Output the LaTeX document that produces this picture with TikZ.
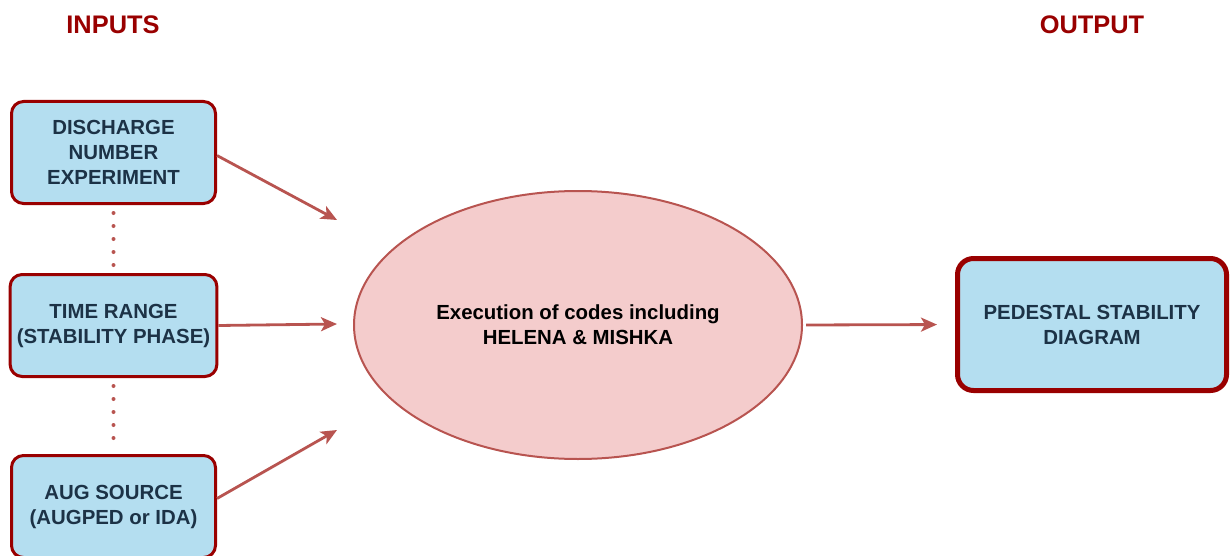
\documentclass[tikz,border=0pt]{standalone}
\usepackage{fontspec}
\setmainfont{Liberation Sans}
\usetikzlibrary{shapes, arrows.meta, positioning, calc}

\definecolor{boxblue}{RGB}{180,222,240}
\definecolor{boxred}{RGB}{153,0,0}
\definecolor{ellfill}{RGB}{244,204,204}
\definecolor{ellred}{RGB}{184,84,80}
\definecolor{navy}{RGB}{28,50,70}

\begin{document}
\begin{tikzpicture}[
			x=0.5pt, y=0.5pt,
			>={Stealth[length=8pt, width=7pt, inset=2pt]},
			inbox/.style={draw=boxred, fill=boxblue, line width=1.5pt, rounded corners=6pt, minimum width=102pt, minimum height=51pt, align=center, text=navy, font=\fontsize{10.2}{12.5}\selectfont\bfseries},
			outbox/.style={inbox, line width=2.5pt, minimum width=134.5pt, minimum height=66pt, rounded corners=8pt},
			process/.style={draw=ellred, fill=ellfill, ellipse, line width=1pt, minimum width=224pt, minimum height=134pt, inner sep=0pt, align=center, font=\fontsize{10.2}{12.5}\selectfont\bfseries},
			title/.style={text=boxred, font=\fontsize{12.7}{15}\selectfont\bfseries},
			flow/.style={->, draw=ellred, line width=1.4pt},
			dots/.style={draw=ellred, line width=2pt, line cap=round, dash pattern=on 0pt off 6.5pt}
			]
			\useasboundingbox (0,0) rectangle (1231,-556);
			% --- Titles ---
			\node[title] (intitle) at (113,-25) {INPUTS};
			\node[title] (outtitle) at (1092,-25) {OUTPUT};
			
			% --- Input boxes ---
			\node[inbox] (discharge) at (113.5,-152.5) {DISCHARGE\\NUMBER\\EXPERIMENT};
			\node[inbox, below=34pt of discharge] (timerange) {TIME RANGE\\(STABILITY PHASE)};
			\node[inbox, below=38pt of timerange] (augsource) {AUG SOURCE\\(AUGPED or IDA)};
			
			% --- Processing and output ---
			\node[process] (exec) at (578,-325) {Execution of codes including\\HELENA \& MISHKA};
			\node[outbox] (pedestal) at (1092,-324.5) {PEDESTAL STABILITY\\DIAGRAM};
			
			% --- Arrow tips near the ellipse ---
			\coordinate (tipA) at (337,-220);
			\coordinate (tipB) at (337,-324);
			\coordinate (tipC) at (337,-430);
			
			% --- Arrows ---
			\draw[flow] ([yshift=-1.5pt]discharge.east) -- (tipA);
			\draw[flow] (timerange.east) -- (tipB);
			\draw[flow] ([yshift=4pt]augsource.east) -- (tipC);
			\draw[flow, shorten <=1.5pt, shorten >=9pt] (exec.east) -- (pedestal.west);
			
			% --- Dotted links between inputs ---
			\draw[dots, shorten <=4pt, shorten >=3pt] (discharge.south) -- (timerange.north);
			\draw[dots, shorten <=4pt, shorten >=3pt] (timerange.south) -- (augsource.north);
			
		\end{tikzpicture}
\end{document}
